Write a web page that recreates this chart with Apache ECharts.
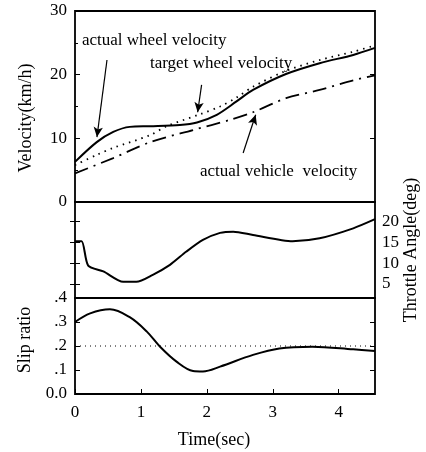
<!DOCTYPE html>
<html><head><meta charset="utf-8">
<script src="https://cdn.jsdelivr.net/npm/echarts@6/dist/echarts.min.js"></script>
<style>html,body{margin:0;padding:0;background:#fff}#c{width:426px;height:452px}</style>
</head><body><div id="c"></div>
<script>
const timeTicks = [0, 1, 2, 3, 4];
const velocityTicks = [0, 10, 20, 30];
const throttleTicks = [5, 10, 15, 20];
const slipTicks = [0, 0.1, 0.2, 0.3, 0.4];
const slipTickLabels = ['0.0', '.1', '.2', '.3', '.4'];

const wheelVel = [[0,6.3],[0.33,9.4],[0.58,11.0],[0.83,11.8],[1.14,11.9],[1.59,12.1],[1.85,12.5],[2.15,13.7],[2.45,15.8],[2.7,17.6],[3.2,20.1],[3.71,21.8],[4.22,23.1],[4.55,24.2]];
const targetVel = [[0,5.8],[0.33,7.4],[0.58,8.5],[1.14,10.5],[1.39,11.9],[1.9,13.8],[2.2,15.0],[2.45,16.4],[2.7,18.1],[3.2,20.6],[3.71,22.3],[4.22,23.6],[4.55,24.6]];
const vehicleVel = [[0,4.5],[0.58,6.9],[1.14,9.4],[1.79,11.3],[2.35,12.9],[2.7,14.1],[3.2,16.3],[3.71,17.6],[4.22,19.1],[4.55,19.9]];
const throttle = [[0,15.3],[0.1,15.3],[0.2,9.4],[0.43,8.0],[0.73,5.5],[0.93,5.5],[1.18,7.2],[1.44,9.6],[1.69,12.8],[1.94,15.6],[2.2,17.3],[2.4,17.6],[2.7,16.8],[3.3,15.3],[3.71,16.0],[4.22,18.4],[4.55,20.6]];
const slip = [[0,0.30],[0.23,0.336],[0.53,0.353],[0.83,0.32],[1.09,0.26],[1.29,0.197],[1.54,0.135],[1.79,0.096],[1.94,0.094],[2.2,0.114],[2.7,0.163],[3.1,0.19],[3.6,0.197],[4.22,0.186],[4.55,0.179]];
const targetSlip = [[0,0.2],[4.55,0.2]];

const FONT = "'Liberation Serif','Times New Roman',serif";
const X_MAX = 4.55;
const chart = echarts.init(document.getElementById('c'), null, {renderer:'canvas'});

const gridBase = {left:75, width:300, show:true, borderColor:'#000', borderWidth:1.8, backgroundColor:'transparent'};
function xAx(gi, showLabels){
  return {type:'value', gridIndex:gi, min:0, max:X_MAX, interval:1,
    axisLine:{show:false}, splitLine:{show:false},
    axisTick:{show:showLabels, inside:true, length:5, lineStyle:{color:'#000'}, customValues: timeTicks},
    axisLabel:{show:showLabels, color:'#000', fontFamily:FONT, fontSize:17, margin:10, customValues: timeTicks}};
}
const tickStyle = {inside:true, length:5, lineStyle:{color:'#000', width:1}};

chart.setOption({
  animation:false,
  grid:[
    Object.assign({top:11, height:191}, gridBase),
    Object.assign({top:202, height:96}, gridBase),
    Object.assign({top:298, height:96}, gridBase)
  ],
  xAxis:[xAx(0,false), xAx(1,false), xAx(2,true)],
  yAxis:[
    {type:'value', gridIndex:0, min:0, max:30, interval:10, position:'left',
      axisLine:{show:false}, splitLine:{show:false},
      axisTick:Object.assign({show:true}, tickStyle), minorTick:{show:true, splitNumber:2, length:3, lineStyle:{color:'#000'}},
      axisLabel:{color:'#000', fontFamily:FONT, fontSize:17, margin:8}},
    {type:'value', gridIndex:0, min:0, max:30, interval:10, position:'right',
      axisLine:{show:false}, splitLine:{show:false},
      axisTick:Object.assign({show:true}, tickStyle), axisLabel:{show:false}},
    {type:'value', gridIndex:1, min:1.6, max:24.75, position:'right',
      axisLine:{show:false}, splitLine:{show:false},
      axisTick:Object.assign({show:true, customValues:throttleTicks}, tickStyle),
      axisLabel:{color:'#000', fontFamily:FONT, fontSize:17, margin:7, customValues:throttleTicks}},
    {type:'value', gridIndex:1, min:1.6, max:24.75, position:'left',
      axisLine:{show:false}, splitLine:{show:false},
      axisTick:Object.assign({show:true, customValues:throttleTicks}, tickStyle),
      axisLabel:{show:false}},
    {type:'value', gridIndex:2, min:0, max:0.4, interval:0.1, position:'left',
      axisLine:{show:false}, splitLine:{show:false},
      axisTick:Object.assign({show:true}, tickStyle),
      axisLabel:{color:'#000', fontFamily:FONT, fontSize:17, margin:8,
        formatter:function(v){ const i = slipTicks.findIndex(t=>Math.abs(t-v)<1e-6); return i>=0 ? slipTickLabels[i] : ''; }}},
    {type:'value', gridIndex:2, min:0, max:0.4, interval:0.1, position:'right',
      axisLine:{show:false}, splitLine:{show:false},
      axisTick:Object.assign({show:true}, tickStyle), axisLabel:{show:false}}
  ],
  series:[
    {name:'actual wheel velocity', type:'line', xAxisIndex:0, yAxisIndex:0, data:wheelVel, smooth:0.3, showSymbol:false,
      lineStyle:{color:'#000', width:2},
      markLine:{silent:true, symbol:['none','arrow'], symbolSize:[7,10], label:{show:false},
        lineStyle:{color:'#000', width:1.2, type:'solid'},
        data:[
          [{coord:[0.485,22.3]},{coord:[0.333,10.2]}],
          [{coord:[1.92,18.4]},{coord:[1.86,14.1]}],
          [{coord:[2.55,7.7]},{coord:[2.74,13.7]}]
        ]}},
    {name:'target wheel velocity', type:'line', xAxisIndex:0, yAxisIndex:0, data:targetVel, smooth:0.3, showSymbol:false,
      lineStyle:{color:'#000', width:1.8, type:[1.5,5]}},
    {name:'actual vehicle velocity', type:'line', xAxisIndex:0, yAxisIndex:0, data:vehicleVel, smooth:0.3, showSymbol:false,
      lineStyle:{color:'#000', width:1.8, type:[14,6,2,6]}},
    {name:'throttle', type:'line', xAxisIndex:1, yAxisIndex:2, data:throttle, smooth:0.25, showSymbol:false,
      lineStyle:{color:'#000', width:2}},
    {name:'slip', type:'line', xAxisIndex:2, yAxisIndex:4, data:slip, smooth:0.35, showSymbol:false,
      lineStyle:{color:'#000', width:2}},
    {name:'target slip', type:'line', xAxisIndex:2, yAxisIndex:4, data:targetSlip, showSymbol:false,
      lineStyle:{color:'#000', width:1, type:[1,4]}}
  ],
  graphic:[
    {type:'text', left:82, top:32, style:{text:'actual wheel velocity', font:'17px '+FONT, fill:'#000'}},
    {type:'text', left:150, top:55, style:{text:'target wheel velocity', font:'17px '+FONT, fill:'#000'}},
    {type:'text', left:200, top:163, style:{text:'actual vehicle  velocity', font:'17px '+FONT, fill:'#000'}},
    {type:'text', x:26, y:118, rotation:Math.PI/2, style:{text:'Velocity(km/h)', font:'18px '+FONT, fill:'#000', align:'center', verticalAlign:'middle'}},
    {type:'text', x:25, y:340, rotation:Math.PI/2, style:{text:'Slip ratio', font:'18px '+FONT, fill:'#000', align:'center', verticalAlign:'middle'}},
    {type:'text', x:411, y:250, rotation:Math.PI/2, style:{text:'Throttle Angle(deg)', font:'18px '+FONT, fill:'#000', align:'center', verticalAlign:'middle'}},
    {type:'text', x:214, y:440, style:{text:'Time(sec)', font:'18px '+FONT, fill:'#000', align:'center', verticalAlign:'middle'}}
  ]
});
</script></body></html>
